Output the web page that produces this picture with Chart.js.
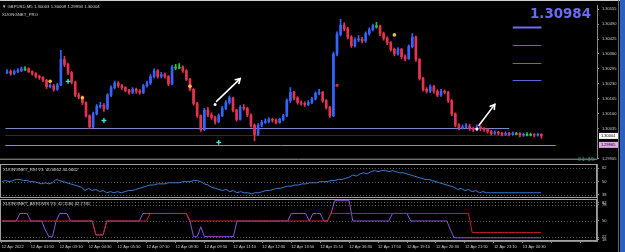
<!DOCTYPE html>
<html lang="en">
<head>
<meta charset="utf-8">
<title>GBPUSD,M5</title>
<script src="https://cdn.jsdelivr.net/npm/chart.js@4.4.0/dist/chart.umd.min.js"></script>
<style>
  body { margin: 0; background: #000; }
  #wrap { position: relative; width: 625px; height: 252px; overflow: hidden; background: #000;
          font-family: "Liberation Sans", Arial, sans-serif; }
  canvas { position: absolute; left: 0; }
  .txt { position: absolute; white-space: nowrap; color: #d4d4d4; font-size: 4.3px; line-height: 5px; }
  #big { position: absolute; left: 530px; top: 6px; font: bold 13.4px "DejaVu Sans", sans-serif; color: #6c6cf0; }
  #timer { position: absolute; left: 578px; top: 156px; font-size: 5.5px; color: #2e9a9a; letter-spacing: 0.6px; }
  #topline { position: absolute; left: 0; top: 0; width: 620px; height: 1px; background: #cfcfcf; }
  #strip { position: absolute; left: 620px; top: 0; width: 5px; height: 252px; background: #2c5fc4; }
  #stripEdge { position: absolute; left: 618px; top: 0; width: 1px; height: 252px; background: #666; }
</style>
</head>
<body>
<div id="wrap">
  <canvas id="main" width="625" height="164" style="top:0"></canvas>
  <canvas id="rsi" width="625" height="36" style="top:163px"></canvas>
  <canvas id="arr" width="625" height="54" style="top:198px"></canvas>

  <div id="topline"></div>
  <div id="stripEdge"></div>
  <div id="strip"></div>
  <div class="txt" style="left:2px;top:4px">&#9660; GBPUSD,M5 1.30003 1.30009 1.29994 1.30004</div>
  <div class="txt" style="left:2px;top:11.5px">XUONGNET_PRO</div>
  <div id="big">1.30984</div>
  <div id="timer">01:39</div>
  <div class="txt" style="left:3px;top:166.5px">XUONGNET_RSI V3: 40.0662 40.0662</div>
  <div class="txt" style="left:3px;top:200.5px">XUONGNET_ARROWS V3: 42.1580 42.7781</div>
</div>

<script>
// prices are in points (0.00001) above 1.30000
const open = [279,283,275,283,287,295,295,283,275,262,
  258,246,218,222,206,226,336,315,279,238,
  181,173,149,92,43,100,132,137,124,181,
  214,234,222,214,202,193,206,198,193,222,
  234,262,287,262,271,262,230,303,303,303,
  287,250,206,145,92,31,116,96,84,67,
  92,124,149,169,116,76,128,124,96,51,
  11,51,63,67,76,72,63,76,92,157,
  193,169,149,145,141,149,165,189,193,157,
  128,92,360,445,486,470,433,396,421,425,
  417,449,466,482,482,449,429,409,380,360,
  380,348,340,392,433,336,254,206,198,218,
  198,181,198,193,157,100,51,39,43,47,
  35,31,43,35,31,23,15,19,15,11,
  15,11,15,15,7,11,11,11,7,11];
const close = [283,275,283,287,295,295,283,275,262,258,
  246,218,222,206,226,336,315,279,238,181,
  173,149,92,43,100,132,137,124,181,214,
  234,222,214,202,193,206,198,193,222,234,
  262,287,262,271,262,230,303,303,303,287,
  250,206,145,92,31,116,96,84,67,92,
  124,149,169,116,76,128,124,96,51,11,
  51,63,67,76,72,63,76,92,157,193,
  169,149,145,141,149,165,189,193,157,128,
  92,360,445,486,470,433,396,421,425,417,
  449,466,482,482,449,429,409,380,360,380,
  348,340,392,433,336,254,206,198,218,198,
  181,198,193,157,100,51,39,43,47,35,
  31,43,35,31,23,15,19,15,11,15,
  11,15,15,7,11,11,11,7,11,4];
const high = [292,290,290,297,303,305,300,287,279,268,
  262,250,230,228,232,376,350,320,283,242,
  190,178,152,96,108,140,150,145,188,222,
  242,240,228,218,206,214,212,205,228,242,
  270,295,292,280,278,266,311,315,318,308,
  292,254,210,150,96,124,128,104,90,100,
  132,157,178,172,120,136,140,128,100,56,
  58,72,78,84,82,78,82,98,165,214,
  198,175,156,152,158,172,196,206,198,162,
  132,368,456,510,495,476,440,430,440,432,
  456,474,490,498,486,455,435,414,386,388,
  385,356,400,449,438,340,258,214,226,224,
  204,206,204,198,162,104,58,52,58,54,
  42,52,48,40,36,28,26,24,20,22,
  20,22,20,18,16,18,16,14,16,14];
const low = [274,268,270,279,283,287,279,268,256,250,
  240,210,212,198,202,222,305,270,230,175,
  165,140,85,35,40,95,125,110,118,175,
  208,215,206,195,185,188,190,185,188,216,
  228,256,255,256,255,222,226,292,295,280,
  244,200,138,84,24,27,88,76,55,62,
  88,118,142,108,68,72,116,88,42,-18,
  5,44,58,60,64,56,58,70,88,150,
  160,142,138,132,135,144,160,182,150,120,
  84,88,352,438,460,425,388,390,414,408,
  410,442,460,472,440,420,400,372,352,355,
  340,330,336,386,328,246,198,190,192,190,
  174,176,186,150,92,44,30,34,38,28,
  22,26,26,24,16,8,10,8,4,6,
  4,6,8,0,2,4,4,0,3,-6];

const rsi = [50,51,50,51,52,52,51,51,50,50,
  49,48,49,48,49,52,51,50,49,48,
  47,46,45,42,44,42,43,41,42,40,
  41,40,41,40,41,42,42,43,44,45,
  46,47,47,48,48,48,49,49,49,49,
  50,50,50,51,51,50,48,47,45,44,
  43,42,43,41,42,40,41,40,40,39,
  40,40,41,42,42,43,44,44,45,46,
  46,47,47,48,48,49,49,49,50,50,
  50,51,51,52,52,53,54,56,55,57,
  58,57,59,60,59,60,60,59,60,59,
  58,58,57,56,55,54,53,52,52,51,
  50,49,48,47,46,45,43,44,42,43,
  41,42,40,41,40,40,40,40,40,40,
  40,40,40,40,40,40,40,40,40,40.07];

const arrowsFast = [50,50,50,50,50,63,63,63,50,50,
  50,50,35,23,23,50,63,63,63,50,
  50,50,50,50,50,50,26,26,26,50,
  50,50,50,50,50,50,50,50,50,63,
  63,63,63,63,63,63,63,63,63,63,
  63,63,50,23,23,40,23,23,23,23,
  23,23,23,23,23,50,50,50,50,50,
  50,50,50,50,50,50,50,50,50,50,
  63,63,63,63,63,50,63,63,63,50,
  50,63,85,85,85,85,85,50,50,50,
  50,50,50,50,50,50,50,50,63,63,
  63,63,63,50,50,50,50,50,50,50,
  50,50,50,50,35,21,21,21,21,21,
  21,21,21,21,21,21,21,21,21,21,
  21,21,21,21,21,21,21,21,21,21];
const arrowsSlow = [50,50,50,50,50,50,50,50,50,50,
  50,50,50,50,50,50,50,50,50,50,
  50,50,50,50,50,50,26,26,26,50,
  50,50,50,50,50,50,50,50,50,50,
  50,63,63,63,63,63,63,63,63,63,
  63,63,50,50,50,50,50,50,50,50,
  50,50,50,50,50,50,50,50,50,50,
  50,50,50,50,50,50,50,50,50,50,
  50,50,50,50,50,50,50,50,50,50,
  50,63,63,63,63,63,63,63,63,63,
  63,63,63,63,63,63,63,63,63,63,
  63,63,63,63,63,63,63,63,63,63,
  63,63,63,63,63,63,63,63,63,63,
  30,30,30,30,30,30,30,30,30,30,
  30,30,30,30,30,30,30,30,30,30];

// signal marks: bar index and price
const sellIdx = [12, 21, 51, 108], sellPrice = [241, 170, 220, 443];
const buyIdx = [17, 27, 59], buyPrice = [241, 71, -24];
const stopIdx = [92], stopPrice = [224];
const dotIdx = [58, 131], dotPrice = [141, 34];
const arrowFrom = [[58.4, 154], [131.6, 50]];
const arrowTo = [[65, 253], [136, 141]];

// horizontal levels and the strength bars on the right
const levels = [38, 7, -35];
const levelEnd = [140, 140, 153];
const strength = [476, 398, 319, 245];

const priceTicks = [555, 490, 425, 360, 295, 230, 165, 100, 35, -95];
const rsiTicks = [62, 50, 38];
const arrTicks = [82, 78, 50, 22, 18];
const timeTicks = ['12 Apr 2022', '12 Apr 01:50', '12 Apr 03:10', '12 Apr 04:30', '12 Apr 05:50',
  '12 Apr 07:10', '12 Apr 08:30', '12 Apr 09:50', '12 Apr 11:10', '12 Apr 12:30', '12 Apr 13:50',
  '12 Apr 15:10', '12 Apr 16:30', '12 Apr 17:50', '12 Apr 19:10', '12 Apr 20:30', '12 Apr 21:50',
  '12 Apr 23:10', '13 Apr 00:30'];

const slots = Array.from({length: 165}, (_, i) => i);
const fmt = v => (1.3 + v / 1e5).toFixed(5);

Chart.defaults.font.family = '"Liberation Sans", Arial, sans-serif';
Chart.defaults.font.size = 4;
Chart.defaults.color = '#cfcfcf';
Chart.defaults.animation = false;
Chart.defaults.plugins.legend.display = false;
Chart.defaults.plugins.tooltip.enabled = false;

const bull = '#3366ff', bear = '#e8334f', doji = '#30c040';
const candleColor = open.map((o, i) => close[i] > o ? bull : close[i] < o ? bear : doji);

function marks(idx, price) {
  const arr = slots.map(() => null);
  idx.forEach((k, j) => { arr[k] = price[j]; });
  return arr;
}

// fixed-width right axis; label overflow must not shrink the plot
function rightAxis(min, max, ticks, fmtFn) {
  return {
    position: 'right', min: min, max: max,
    afterFit: s => { s.width = 28; s.paddingTop = 0; s.paddingBottom = 0; },
    afterBuildTicks: s => { s.ticks = ticks.map(v => ({value: v})); },
    ticks: { autoSkip: false, padding: 3, color: '#cfcfcf', callback: fmtFn || (v => v) },
    grid: { drawOnChartArea: false, tickLength: 2, color: '#8a8a8a' },
    border: { color: '#8a8a8a' }
  };
}

function drawArrow(ctx, x1, y1, x2, y2) {
  const a = Math.atan2(y2 - y1, x2 - x1);
  ctx.beginPath(); ctx.moveTo(x1, y1); ctx.lineTo(x2, y2); ctx.stroke();
  ctx.beginPath();
  ctx.moveTo(x2 - 5 * Math.cos(a - 0.55), y2 - 5 * Math.sin(a - 0.55));
  ctx.lineTo(x2, y2);
  ctx.lineTo(x2 - 5 * Math.cos(a + 0.55), y2 - 5 * Math.sin(a + 0.55));
  ctx.stroke();
}

const mainDecor = {
  id: 'mainDecor',
  beforeDatasetsDraw(chart) {
    const {ctx, chartArea: a, scales: {x, y}} = chart;
    const colors = ['#7e86c8', '#3c1c52', '#8c84e0'];
    ctx.save();
    ctx.lineWidth = 1;
    levels.forEach((p, k) => {
      const py = Math.round(y.getPixelForValue(p)) + 0.5;
      ctx.strokeStyle = colors[k];
      ctx.beginPath(); ctx.moveTo(a.left, py); ctx.lineTo(x.getPixelForValue(levelEnd[k]), py); ctx.stroke();
    });
    strength.forEach((p, k) => {
      const py = Math.round(y.getPixelForValue(p)) + 0.5;
      ctx.strokeStyle = k === 0 ? '#6c6cf0' : '#5a64d4';
      ctx.lineWidth = k === 0 ? 2 : 1;
      ctx.beginPath(); ctx.moveTo(x.getPixelForValue(141), py); ctx.lineTo(x.getPixelForValue(149), py); ctx.stroke();
    });
    ctx.restore();
  },
  afterDatasetsDraw(chart) {
    const {ctx, chartArea: a, scales: {x, y}} = chart;
    ctx.save();
    ctx.strokeStyle = '#ffffff'; ctx.lineWidth = 1.6; ctx.lineCap = 'round';
    arrowFrom.forEach((f, k) => {
      const t = arrowTo[k];
      drawArrow(ctx, x.getPixelForValue(f[0]), y.getPixelForValue(f[1]),
        x.getPixelForValue(t[0]), y.getPixelForValue(t[1]));
    });
    // separator under the price window
    ctx.strokeStyle = '#a0a0a0'; ctx.lineWidth = 1;
    ctx.beginPath(); ctx.moveTo(0, a.bottom + 0.5); ctx.lineTo(a.right, a.bottom + 0.5); ctx.stroke();
    // price boxes on the axis
    const boxes = [[close[close.length - 1], '#ffffff'], [levels[2], '#e4a6ec']];
    ctx.font = '4px "Liberation Sans", Arial, sans-serif';
    ctx.textBaseline = 'middle';
    boxes.forEach(([p, bg]) => {
      const py = y.getPixelForValue(p);
      ctx.fillStyle = bg; ctx.fillRect(a.right + 2, py - 3, 19, 6);
      ctx.fillStyle = '#000'; ctx.fillText(fmt(p), a.right + 4, py);
    });
    ctx.restore();
  }
};

const panelDecor = {
  id: 'panelDecor',
  beforeDatasetsDraw(chart, args, opts) {
    const {ctx, chartArea: a, scales: {y}} = chart;
    ctx.save();
    ctx.strokeStyle = '#5c5c5c'; ctx.lineWidth = 1; ctx.setLineDash([1, 2]);
    opts.levels.forEach(v => {
      const py = Math.round(y.getPixelForValue(v)) + 0.5;
      ctx.beginPath(); ctx.moveTo(a.left, py); ctx.lineTo(a.right, py); ctx.stroke();
    });
    ctx.setLineDash([]);
    ctx.strokeStyle = '#a0a0a0';
    ctx.strokeRect(a.left + 0.5, a.top + 0.5, a.right - a.left - 1, a.bottom - a.top - 1);
    ctx.restore();
  }
};

new Chart(document.getElementById('main'), {
  type: 'bar',
  data: {
    labels: slots,
    datasets: [
      { label: 'wick', data: low.map((l, i) => [l, high[i]]), backgroundColor: candleColor,
        barThickness: 1, grouped: false, order: 3 },
      { label: 'body', data: open.map((o, i) => [o, close[i]]), backgroundColor: candleColor,
        barThickness: 2, minBarLength: 1, grouped: false, order: 2 },
      { type: 'line', label: 'sell', data: marks(sellIdx, sellPrice), showLine: false,
        pointRadius: 1.8, pointBackgroundColor: '#f2c12e', pointBorderWidth: 0, order: 1 },
      { type: 'line', label: 'buy', data: marks(buyIdx, buyPrice), showLine: false, pointStyle: 'cross',
        pointRadius: 2.4, pointBorderColor: '#3ce8e0', pointBorderWidth: 1.3, order: 1 },
      { type: 'line', label: 'stop', data: marks(stopIdx, stopPrice), showLine: false,
        pointRadius: 1.6, pointBackgroundColor: '#e02828', pointBorderWidth: 0, order: 1 },
      { type: 'line', label: 'dot', data: marks(dotIdx, dotPrice), showLine: false,
        pointRadius: 1.5, pointBackgroundColor: '#ffffff', pointBorderWidth: 0, order: 1 }
    ]
  },
  options: {
    responsive: false, devicePixelRatio: 1,
    layout: { padding: { top: 2, bottom: 1, left: 0, right: 0 } },
    scales: {
      x: { display: false, offset: true },
      y: rightAxis(-95, 571.5, priceTicks, fmt)
    }
  },
  plugins: [mainDecor]
});

new Chart(document.getElementById('rsi'), {
  type: 'line',
  data: {
    labels: slots,
    datasets: [{ data: rsi, borderColor: '#3a7cd0', borderWidth: 1, pointRadius: 0 }]
  },
  options: {
    responsive: false, devicePixelRatio: 1,
    layout: { padding: { top: 1, bottom: 1, left: 0, right: 0 } },
    scales: {
      x: { display: false, offset: true },
      y: rightAxis(35.3, 65.9, rsiTicks)
    },
    plugins: { panelDecor: { levels: rsiTicks } }
  },
  plugins: [panelDecor]
});

new Chart(document.getElementById('arr'), {
  type: 'line',
  data: {
    labels: slots,
    datasets: [
      { data: arrowsSlow, borderColor: '#c8202c', borderWidth: 1, pointRadius: 0, order: 1 },
      { data: arrowsFast, borderColor: '#8e52d6', borderWidth: 1, pointRadius: 0, order: 2 }
    ]
  },
  options: {
    responsive: false, devicePixelRatio: 1,
    layout: { padding: { top: 1, bottom: 0, left: 0, right: 0 } },
    scales: {
      x: {
        offset: true,
        afterFit: s => { s.height = 11; s.paddingLeft = 0; s.paddingRight = 0; },
        ticks: { autoSkip: false, maxRotation: 0, align: 'start', padding: 1, color: '#cfcfcf',
          callback: (v, i) => (i % 8 === 0 && timeTicks[i / 8]) ? timeTicks[i / 8] : '' },
        grid: { drawOnChartArea: false, tickLength: 2,
          color: c => c.index % 8 === 0 ? '#8a8a8a' : 'rgba(0,0,0,0)' },
        border: { color: '#8a8a8a' }
      },
      y: rightAxis(15.5, 87.9, arrTicks)
    },
    plugins: { panelDecor: { levels: arrTicks } }
  },
  plugins: [panelDecor]
});
</script>
</body>
</html>
